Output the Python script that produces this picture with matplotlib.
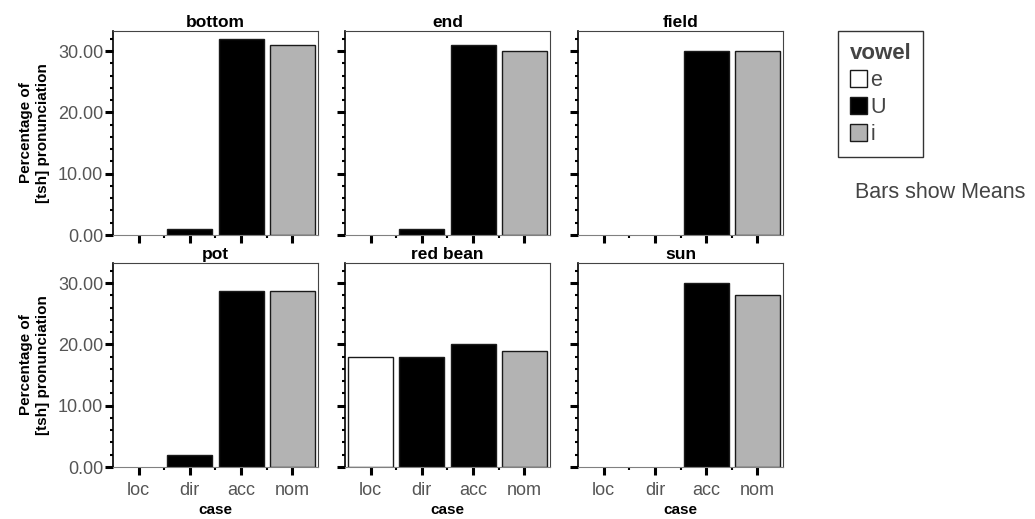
import numpy as np
import matplotlib
matplotlib.use("Agg")
import matplotlib.pyplot as plt
from matplotlib.patches import Patch
from matplotlib.ticker import MultipleLocator, FixedLocator

plt.rcParams['font.family'] = ['Liberation Sans', 'DejaVu Sans']

words = ["bottom", "end", "field", "pot", "red bean", "sun"]
cases = ["loc", "dir", "acc", "nom"]
case_vowel = ["e", "U", "U", "i"]
vowels = ["e", "U", "i"]
vowel_colors = {"e": "#ffffff", "U": "#000000", "i": "#b3b3b3"}

# mean percentage of [tsh] per case, one list per word
bottom = [0, 1, 32, 31]
end = [0, 1, 31, 30]
field = [0, 0, 30, 30]
pot = [0, 2, 28.8, 28.8]
red_bean = [18, 18, 20, 19]
sun = [0, 0, 30, 28]
means = [bottom, end, field, pot, red_bean, sun]

W, H = 1035, 519
fig = plt.figure(figsize=(W / 100, H / 100), dpi=100)

lefts = [113, 345, 578]
tops = [31, 263]
pw, ph = 205, 204

x = np.arange(len(cases))
for k, (word, vals) in enumerate(zip(words, means)):
    r, c = divmod(k, 3)
    ax = fig.add_axes([lefts[c] / W, 1 - (tops[r] + ph) / H, pw / W, ph / H])
    for xi, v, vw in zip(x, vals, case_vowel):
        if v > 0:
            ax.bar(xi, v, width=0.88, color=vowel_colors[vw],
                   edgecolor="#1a1a1a", linewidth=1.0, zorder=2)
    ax.set_xlim(-0.5, 3.5)
    ax.set_ylim(0, 33.3)
    ax.set_title(word, fontsize=12.5, fontweight="bold", pad=3)

    ax.yaxis.set_major_locator(FixedLocator([0, 10, 20, 30]))
    ax.yaxis.set_minor_locator(MultipleLocator(2))
    ax.set_xticks(x)
    ax.xaxis.set_minor_locator(FixedLocator([0.5, 1.5, 2.5]))
    ax.tick_params(axis="both", which="major", direction="out", length=6,
                   width=2.2, color="black", labelsize=13, labelcolor="#555555")
    ax.tick_params(axis="both", which="minor", direction="out", length=2,
                   width=1.5, color="black")
    ax.tick_params(axis="y", which="major", pad=1)
    ax.tick_params(axis="x", which="major", pad=5)

    if c == 0:
        ax.set_yticklabels(["%.2f" % t for t in [0, 10, 20, 30]])
        ax.set_ylabel("Percentage of\n[tsh] pronunciation", fontsize=11,
                      fontweight="bold", labelpad=6)
    else:
        ax.set_yticklabels([])
    if r == 1:
        ax.set_xticklabels(cases)
        ax.set_xlabel("case", fontsize=11, fontweight="bold", labelpad=3)
    else:
        ax.set_xticklabels([])

    ax.spines["left"].set_color("black")
    ax.spines["left"].set_linewidth(1.2)
    ax.spines["bottom"].set_color("#808080")
    ax.spines["top"].set_color("#444444")
    ax.spines["right"].set_color("#444444")

handles = [Patch(facecolor=vowel_colors[v], edgecolor="#1a1a1a", linewidth=1.0)
           for v in vowels]
leg = fig.legend(handles, vowels, title="vowel", loc="upper left",
                 bbox_to_anchor=(838 / W, 1 - 31 / H), frameon=True,
                 fancybox=False, edgecolor="black", fontsize=15.5,
                 title_fontproperties={"weight": "bold", "size": 16},
                 handlelength=0.8, handleheight=0.8, handletextpad=0.15,
                 labelspacing=0.28, borderpad=0.55, borderaxespad=0,
                 alignment="left")
leg.get_frame().set_linewidth(1.0)
leg.get_title().set_color("#444444")
for t in leg.get_texts():
    t.set_color("#444444")

fig.text(855 / W, 1 - 193 / H, "Bars show Means", fontsize=15.5,
         color="#444444", va="center", ha="left")

fig.savefig("out.png", dpi=100)
